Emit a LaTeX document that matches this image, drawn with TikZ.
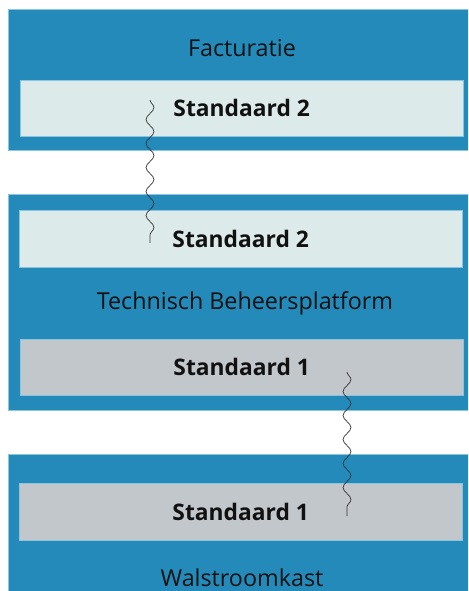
\documentclass[tikz,border=0pt]{standalone}
\usepackage{fontspec}
\setmainfont{Open Sans}
\usetikzlibrary{decorations.pathmorphing}

\definecolor{layerblue}{RGB}{35,138,186}
\definecolor{layeredge}{RGB}{140,195,222}
\definecolor{stdlight}{RGB}{220,235,234}
\definecolor{stdgray}{RGB}{194,199,204}
\definecolor{inktext}{RGB}{17,17,17}

\tikzset{
  layer/.style={draw=layeredge, line width=0.6pt, fill=layerblue, anchor=north west, inner sep=0},
  std/.style={draw=layeredge, line width=0.4pt, anchor=north west, minimum width=443pt,
    inner sep=0, font=\fontsize{22.8}{26}\selectfont\bfseries, text=inktext},
  layername/.style={font=\fontsize{23.3}{26}\selectfont, text=inktext},
  wave/.style={decorate, decoration={snake, amplitude=4pt, segment length=24pt},
    draw=black!80, line width=0.7pt}
}

\begin{document}
\begin{tikzpicture}[x=1pt, y=-1pt]
      \useasboundingbox (0,0) rectangle (468,591);
      \clip (0,0) rectangle (468,591);
      \fill[white] (0,0) rectangle (468,591);

      % three layers
      \node[layer, minimum width=470pt, minimum height=141pt] (fact) at (8,9) {};
      \node[layer, minimum width=470pt, minimum height=216pt] (tbp) at (8,194) {};
      \node[layer, minimum width=470pt, minimum height=150pt] (wsk) at (8,454) {};

      \node[layername] (factname) at (242,48) {Facturatie};
      \node[layername] (tbpname) at (245,303) {Technisch Beheersplatform};
      \node[layername] (wskname) at (242,578) {Walstroomkast};

      % standards
      \node[std, fill=stdlight, minimum height=56pt] (factstd) at (20,80) {Standaard 2};
      \node[std, fill=stdlight, minimum height=57pt] (tbpstdtwo) at (19,210) {Standaard 2};
      \node[std, fill=stdgray, minimum height=56pt] (tbpstdone) at (20,339) {Standaard 1};
      \node[std, fill=stdgray, minimum height=57pt] (wskstd) at (19,483) {Standaard 1};

      \coordinate (W1a) at (150,100);
      \coordinate (W1b) at (150,243);
      \coordinate (W2a) at (347,372);
      \coordinate (W2b) at (347,516);

      \draw[wave] (W1a) -- (W1b);
      \draw[wave] (W2a) -- (W2b);
    \end{tikzpicture}
\end{document}
